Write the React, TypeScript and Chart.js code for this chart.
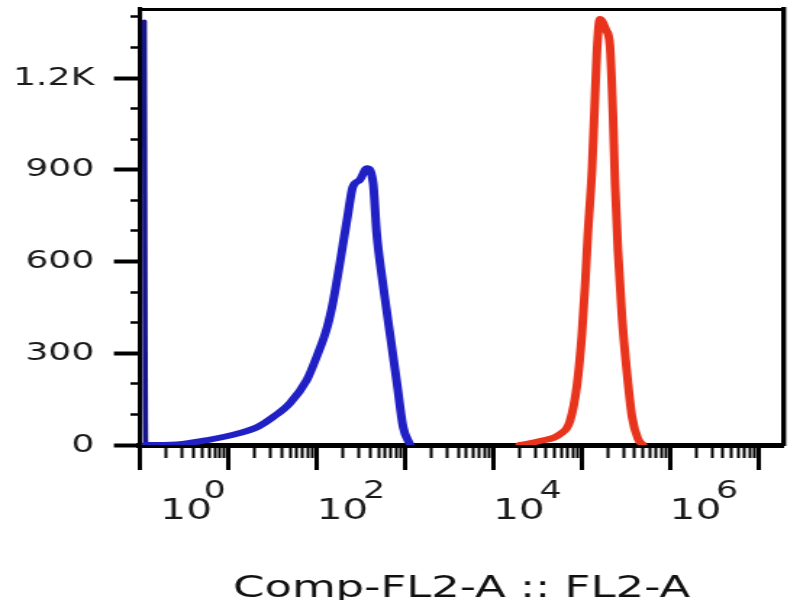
import React, { useEffect, useRef } from "react";
import { Chart, registerables } from "chart.js";

Chart.register(...registerables);

// ---------- data ----------
// Blue histogram (x = fluorescence, y = count)
const blueX = [1.12, 1.16, 2.6, 5.8, 13.5, 21.4, 32.4, 50, 77.6, 100, 132, 155, 186, 224, 257, 309, 372, 437, 479, 562, 676, 813, 955, 1148];
const blueY = [1386, 0, 2, 16, 39, 59, 92, 137, 213, 288, 386, 474, 605, 746, 844, 867, 905, 857, 693, 530, 366, 203, 59, 0];

// Red histogram
const redX = [2.0e4, 3.39e4, 5.75e4, 7.41e4, 8.9e4, 1.01e5, 1.1e5, 1.18e5, 1.32e5, 1.42e5, 1.5e5, 1.62e5, 1.9e5, 2.1e5, 2.28e5, 2.4e5, 2.59e5, 2.88e5, 3.28e5, 3.74e5, 4.37e5, 4.98e5];
const redY = [0, 13, 36, 78, 196, 360, 523, 687, 906, 1128, 1292, 1393, 1357, 1308, 1072, 857, 638, 419, 235, 92, 20, 0];

// Axis ticks
const yTickValues = [0, 300, 600, 900, 1200];
const yTickLabels = ["0", "300", "600", "900", "1.2K"];
const yMinorValues = [100, 200, 400, 500, 700, 800, 1000, 1100, 1300, 1400];

const xDecades = [1, 1e1, 1e2, 1e3, 1e4, 1e5, 1e6, 1e7];
const xBaseLabels = ["\u200210", "", "10", "", "10", "", "10", ""];
const xSupLabels = ["\u20020", "", "2", "", "4", "", "6", ""];

const X_MIN = 1;
const X_MAX = 1.919e7;
const Y_MIN = 0;
const Y_MAX = 1426;

const xTitle = "Comp-FL2-A :: FL2-A";

// ---------- layout ----------
const W = 552;
const H = 600;
const S = 800 / W;
const FONT = "'DejaVu Sans', sans-serif";
const BLUE = "#2020c4";
const RED = "#e8341c";

const xMinorTicks: number[] = [];
for (let d = 0; d <= 7; d++) {
  for (let k = 2; k <= 9; k++) {
    const v = k * Math.pow(10, d);
    if (v < X_MAX) xMinorTicks.push(v);
  }
}

const noPad = (s: any) => {
  s.paddingLeft = 0;
  s.paddingRight = 0;
  s.paddingTop = 0;
  s.paddingBottom = 0;
};

export default function App() {
  const ref = useRef<HTMLCanvasElement>(null);

  useEffect(() => {
    const canvas = ref.current;
    if (!canvas) return;
    const chart = new Chart(canvas, {
      type: "line",
      data: {
        datasets: [
          {
            data: blueX.map((x, i) => ({ x, y: blueY[i] })),
            borderColor: BLUE,
            borderWidth: 6,
            pointRadius: 0,
            cubicInterpolationMode: "monotone",
            borderJoinStyle: "round",
            borderCapStyle: "round",
            xAxisID: "x",
            yAxisID: "y",
            segment: {
              borderWidth: (ctx: any) => (ctx.p0DataIndex === 0 ? 3.6 : undefined),
              borderColor: (ctx: any) => (ctx.p0DataIndex === 0 ? "#16168a" : undefined),
            },
          } as any,
          {
            data: redX.map((x, i) => ({ x, y: redY[i] })),
            borderColor: RED,
            borderWidth: 6,
            pointRadius: 0,
            cubicInterpolationMode: "monotone",
            borderJoinStyle: "round",
            borderCapStyle: "round",
            xAxisID: "x",
            yAxisID: "y",
          } as any,
        ],
      },
      options: {
        responsive: false,
        animation: false,
        devicePixelRatio: 1,
        layout: { padding: { left: 0, top: 9, right: W - 783 / S, bottom: 0 } },
        plugins: { legend: { display: false }, tooltip: { enabled: false } },
        scales: {
          x: {
            type: "logarithmic",
            position: "bottom",
            min: X_MIN,
            max: X_MAX,
            afterBuildTicks: (s: any) => {
              s.ticks = xDecades.map((v) => ({ value: v }));
            },
            afterFit: (s: any) => {
              s.height = 155;
              noPad(s);
            },
            grid: { display: true, drawOnChartArea: false, drawTicks: true, tickLength: 25, tickWidth: 3, tickColor: "#000" },
            border: { display: true, color: "#000", width: 5 },
            ticks: {
              autoSkip: false,
              maxRotation: 0,
              minRotation: 0,
              align: "start",
              padding: 28,
              color: "#1a1a1a",
              font: { family: FONT, size: 28, lineHeight: 1 },
              callback: (_v: any, i: number) => xBaseLabels[i],
            },
            title: {
              display: true,
              text: xTitle,
              color: "#111",
              font: { family: FONT, size: 31, lineHeight: 0.72 },
              padding: { top: 0, bottom: 0 },
            },
          },
          xSup: {
            type: "logarithmic",
            axis: "x",
            position: { y: 0 },
            min: X_MIN,
            max: X_MAX,
            afterBuildTicks: (s: any) => {
              s.ticks = xDecades.map((v) => ({ value: v }));
            },
            afterFit: noPad,
            grid: { display: false, drawOnChartArea: false, drawTicks: false, tickLength: 0 },
            border: { display: false },
            ticks: {
              autoSkip: false,
              maxRotation: 0,
              minRotation: 0,
              align: "start",
              labelOffset: 32,
              padding: 35,
              color: "#1a1a1a",
              font: { family: FONT, size: 24, lineHeight: 1 },
              callback: (_v: any, i: number) => xSupLabels[i],
            },
          },
          xMinor: {
            type: "logarithmic",
            axis: "x",
            position: { y: 0 },
            min: X_MIN,
            max: X_MAX,
            afterBuildTicks: (s: any) => {
              s.ticks = xMinorTicks.map((v) => ({ value: v }));
            },
            afterFit: noPad,
            grid: { display: true, drawOnChartArea: false, drawTicks: true, tickLength: 13, tickWidth: 2, tickColor: "#000" },
            border: { display: false },
            ticks: { display: false },
          },
          xTop: {
            type: "linear",
            axis: "x",
            position: { y: Y_MAX },
            min: 0,
            max: 1,
            afterFit: noPad,
            grid: { display: true, drawOnChartArea: false, drawTicks: false },
            border: { display: true, color: "#000", width: 3 },
            ticks: { display: false },
          },
          y: {
            type: "linear",
            position: "left",
            min: Y_MIN,
            max: Y_MAX,
            afterBuildTicks: (s: any) => {
              s.ticks = yTickValues.map((v) => ({ value: v }));
            },
            afterFit: (s: any) => {
              s.width = 140 / S;
              noPad(s);
            },
            grid: { display: true, drawOnChartArea: false, drawTicks: true, tickLength: 18, tickWidth: 4, tickColor: "#000" },
            border: { display: true, color: "#000", width: 3.1 },
            ticks: {
              autoSkip: false,
              padding: 13.5,
              color: "#1a1a1a",
              font: { family: FONT, size: 25 },
              callback: (_v: any, i: number) => yTickLabels[i],
            },
          },
          yMinor: {
            type: "linear",
            axis: "y",
            position: { x: X_MIN },
            min: Y_MIN,
            max: Y_MAX,
            afterBuildTicks: (s: any) => {
              s.ticks = yMinorValues.map((v) => ({ value: v }));
            },
            afterFit: noPad,
            grid: { display: true, drawOnChartArea: false, drawTicks: true, tickLength: 7, tickWidth: 2.5, tickColor: "#000" },
            border: { display: false },
            ticks: { display: false },
          },
          yRight: {
            type: "linear",
            axis: "y",
            position: { x: X_MAX },
            min: Y_MIN,
            max: Y_MAX,
            afterFit: noPad,
            grid: { display: true, drawOnChartArea: false, drawTicks: false },
            border: { display: true, color: "#000", width: 3.4 },
            ticks: { display: false },
          },
        },
      } as any,
    });
    return () => chart.destroy();
  }, []);

  return (
    <div style={{ position: "absolute", left: 0, top: 0, width: 800, height: 600, background: "#fff" }}>
      <canvas ref={ref} width={W} height={H} style={{ width: "800px", height: "600px", display: "block" }} />
    </div>
  );
}
